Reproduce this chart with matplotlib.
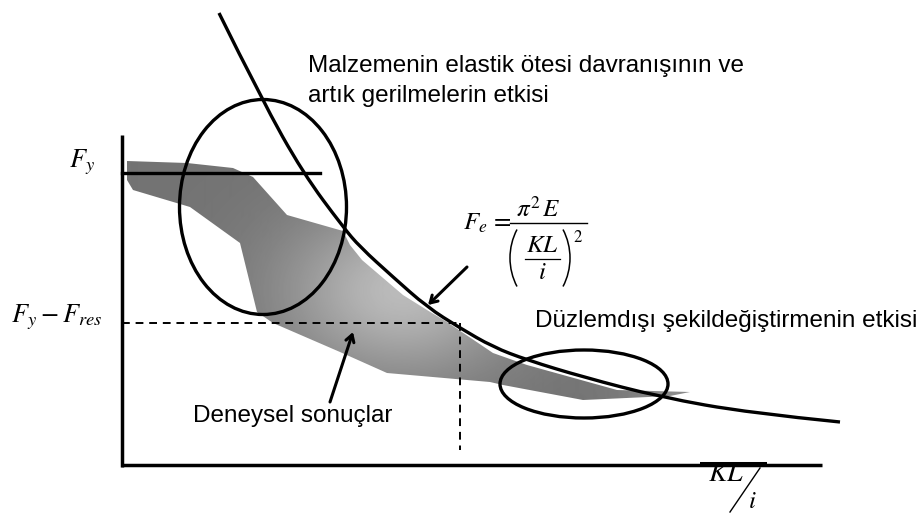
import numpy as np
import matplotlib
matplotlib.use("Agg")
import matplotlib.pyplot as plt
from matplotlib.patches import Ellipse, Polygon, FancyArrowPatch, Arc, PathPatch
from matplotlib.path import Path

plt.rcParams['font.family'] = ['Liberation Sans', 'DejaVu Sans']
plt.rcParams['mathtext.fontset'] = 'stix'

# Euler buckling curve (slenderness KL/i, critical load) – schematic units
euler_x = [97, 140, 181, 221, 238, 271, 305, 338, 371, 405, 461, 538, 628, 718]
euler_y = [452, 365, 292, 238, 218, 188, 158, 137, 118, 105, 88, 68, 52, 43]

# Scatter band of experimental results (outline, clockwise)
band_x = [5, 65, 111, 131, 165, 221, 228, 240, 281, 305, 325, 371, 405, 495, 568,
          548, 461, 381, 368, 265, 218, 151, 135, 118, 68, 11, 5]
band_y = [304, 302, 297, 288, 250, 234, 220, 205, 170, 155, 143, 112, 100, 75, 73,
          69, 65, 80, 83, 92, 113, 142, 153, 222, 258, 275, 285]

# Reference load levels
fy_level = 292
fy_minus_fres = 142
fy_line_end = 198
dash_x = 338

# Highlighted regions (centre x, centre y, width, height)
inelastic_zone = (141, 258, 167, 215)
out_of_plane_zone = (462, 81, 168, 68)


def smooth_path(xs, ys):
    """Quadratic Bezier path through the midpoints, using the points as controls."""
    pts = np.column_stack([xs, ys]).astype(float)
    verts = [pts[0]]
    codes = [Path.MOVETO]
    for i in range(1, len(pts) - 1):
        mid = (pts[i] + pts[i + 1]) / 2 if i < len(pts) - 2 else pts[i + 1]
        verts += [pts[i], mid]
        codes += [Path.CURVE3, Path.CURVE3]
    return Path(verts, codes)


fig = plt.figure(figsize=(9.22, 5.13), dpi=100)
ax = fig.add_axes([0, 0, 1, 1])
ax.set_xlim(-122, 800)
ax.set_ylim(-48, 465)
ax.axis('off')

# Grey band with soft shading
poly = Polygon(np.column_stack([band_x, band_y]), closed=True,
               facecolor='none', edgecolor='none')
ax.add_patch(poly)
gx = np.linspace(0, 600, 600)
gy = np.linspace(60, 310, 250)
GX, GY = np.meshgrid(gx, gy)
shade = (0.45
         + 0.28 * np.exp(-((GX - 280) ** 2 / (2 * 85 ** 2) + (GY - 175) ** 2 / (2 * 60 ** 2)))
         + 0.10 * np.exp(-((GX - 560) ** 2 / (2 * 40 ** 2))))
img = ax.imshow(shade, extent=(0, 600, 60, 310), origin='lower', cmap='gray',
                vmin=0, vmax=1, interpolation='bilinear', aspect='auto', zorder=1)
img.set_clip_path(poly)

# Axes
ax.plot([0, 0], [-2, 330], color='black', lw=2.5, solid_capstyle='butt', zorder=3)
ax.plot([-1, 700], [0, 0], color='black', lw=2.5, solid_capstyle='butt', zorder=3)
ax.plot([578, 645], [1.5, 1.5], color='black', lw=2.9, solid_capstyle='butt', zorder=3)

# Yield level
ax.plot([0, fy_line_end], [fy_level, fy_level], color='black', lw=2.4, zorder=4)

# Fy - Fres level and its slenderness
ax.plot([0, dash_x], [fy_minus_fres, fy_minus_fres], color='black', lw=1.4,
        ls=(0, (4, 3)), zorder=4)
ax.plot([dash_x, dash_x], [fy_minus_fres, 15], color='black', lw=1.4,
        ls=(0, (4, 3)), zorder=4)

# Euler curve
ax.add_patch(PathPatch(smooth_path(euler_x, euler_y), facecolor='none',
                       edgecolor='black', lw=2.4, zorder=5))

# Ellipses
for cx, cy, w, h in (inelastic_zone, out_of_plane_zone):
    ax.add_patch(Ellipse((cx, cy), w, h, fill=False, edgecolor='black', lw=2.4, zorder=6))

# Arrows
for start, end in (((345, 198), (306, 160)), ((208, 63), (231, 133))):
    ax.add_patch(FancyArrowPatch(start, end, arrowstyle='->,head_length=5,head_width=3',
                                 color='black', lw=2.2, zorder=6,
                                 shrinkA=0, shrinkB=0))

# Labels
ax.text(186, 393, 'Malzemenin elastik ötesi davranışının ve', fontsize=17.5,
        ha='left', va='baseline')
ax.text(186, 363, 'artık gerilmelerin etkisi', fontsize=17.5, ha='left', va='baseline')
ax.text(413, 138, 'Düzlemdışı şekildeğiştirmenin etkisi', fontsize=17.5,
        ha='left', va='baseline')
ax.text(71, 43, 'Deneysel sonuçlar', fontsize=17.5, ha='left', va='baseline')

ax.text(-53, 298, r'$F_y$', fontsize=19, ha='left', va='baseline')
ax.text(-111, 143, r'$F_y - F_{res}$', fontsize=19, ha='left', va='baseline')

# Euler formula  F_e = pi^2 E / (KL/i)^2
ax.text(341, 235, r'$F_e\,=$', fontsize=18, ha='left', va='baseline')
ax.plot([388, 465], [242, 242], color='black', lw=1.0)
ax.text(416, 248, r'$\pi^2\,E$', fontsize=18, ha='center', va='baseline')
ax.text(420, 213, r'$KL$', fontsize=18, ha='center', va='baseline')
ax.plot([403, 438], [206, 206], color='black', lw=0.9)
ax.text(420, 186, r'$i$', fontsize=18, ha='center', va='baseline')
paren_r = 61.5
paren_ang = 27.6
ax.add_patch(Arc((388 + paren_r, 207), 2 * paren_r, 2 * paren_r,
                 theta1=180 - paren_ang, theta2=180 + paren_ang, lw=1.1, color='black'))
ax.add_patch(Arc((448 - paren_r, 207), 2 * paren_r, 2 * paren_r,
                 theta1=-paren_ang, theta2=paren_ang, lw=1.1, color='black'))
ax.text(451, 236, r'$2$', fontsize=12, ha='left', va='top')

# Slenderness axis label KL/i
ax.text(586, -16, r'$KL$', fontsize=20, ha='left', va='baseline')
ax.plot([638, 608], [-3, -47], color='black', lw=1.0)
ax.text(626, -43, r'$i$', fontsize=18, ha='left', va='baseline')

fig.savefig('out.png', dpi=100)
